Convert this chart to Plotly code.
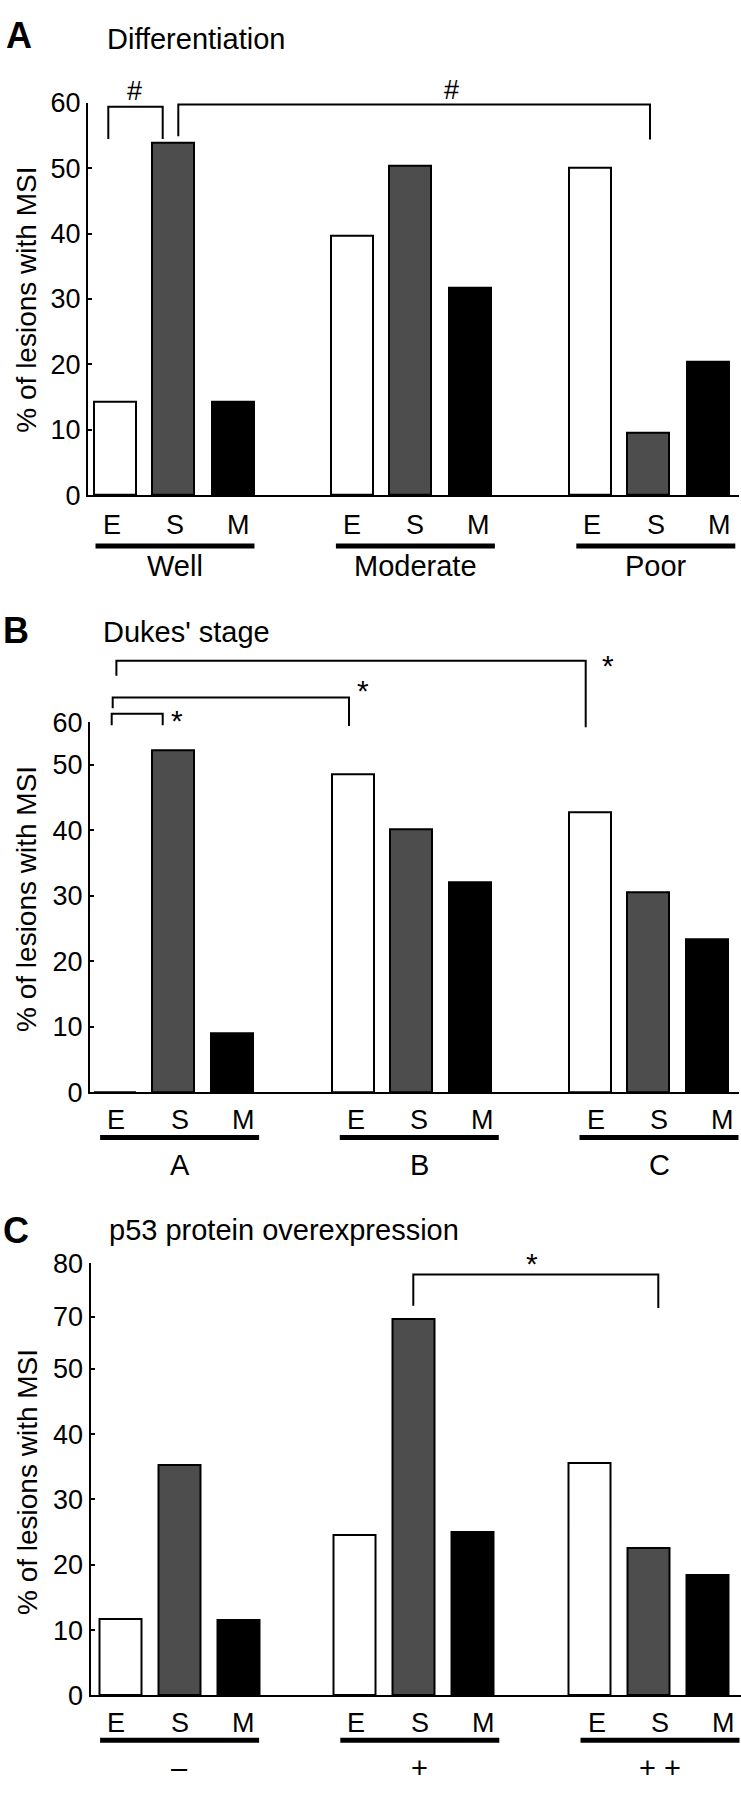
import numpy as np
import plotly.graph_objects as go

W, H = 741, 1794
FONT = "Liberation Sans, Arial, Helvetica, sans-serif"

# ---------------- data ----------------
series = ["E", "S", "M"]

diff_groups = ["Well", "Moderate", "Poor"]
diff_E = [14.3, 39.7, 50.1]
diff_S = [53.9, 50.4, 9.6]
diff_M = [14.3, 31.7, 20.4]
diff_ticks = [0, 10, 20, 30, 40, 50, 60]

dukes_groups = ["A", "B", "C"]
dukes_E = [0.0, 48.5, 42.8]
dukes_S = [53.5, 40.2, 30.5]
dukes_M = [9.0, 32.0, 23.3]
dukes_ticks = [0, 10, 20, 30, 40, 50, 60]

p53_groups = ["\u2013", "+", "+ +"]
p53_E = [11.7, 24.6, 35.6]
p53_S = [35.3, 69.0, 22.5]
p53_M = [11.6, 25.0, 18.4]
p53_ticks = [0, 10, 20, 30, 40, 50, 70, 80]

# ---------------- layout / style ----------------
colors = {"E": "#ffffff", "S": "#4d4d4d", "M": "#000000"}

panels = [
    dict(letter="A", title="Differentiation", groups=diff_groups,
         vals={"E": diff_E, "S": diff_S, "M": diff_M},
         ticks=diff_ticks, tickpos=[0, 10, 20, 30, 40, 50, 60],
         base=488.3, top=89.3, left=88, right=739, c0=173.0, gap=237.3,
         offs={"E": -58, "S": 0, "M": 60},
         lab_c0=175.0, lab_gap=240.4, esm_y=518.3, line_y=540, grp_y=560,
         letter_xy=(19, 21), title_xy=(105, 24), ytitle_y=289.5,
         brackets=[[(108.3, 126), (108.3, 93.3), (162.7, 93.3), (162.7, 126)],
                   [(178.3, 123.3), (178.3, 91), (650, 91), (650, 126.5)]],
         marks=[("#", 134.3, 77), ("#", 451, 76)]),
    dict(letter="B", title="Dukes' stage", groups=dukes_groups,
         vals={"E": dukes_E, "S": dukes_S, "M": dukes_M},
         ticks=dukes_ticks, tickpos=[0, 10, 20, 30, 40, 50, 56.5],
         base=1095.7, top=719.3, left=90, right=739, c0=173.3, gap=237.3,
         offs={"E": -58, "S": 0, "M": 59},
         lab_c0=179.6, lab_gap=239.7, esm_y=1123.6, line_y=1141.5, grp_y=1169.4,
         letter_xy=(15.5, 626), title_xy=(101, 628), ytitle_y=899,
         brackets=[[(111.7, 722.3), (111.7, 710.7), (162.7, 710.7), (162.7, 722.3)],
                   [(112.7, 705), (112.7, 694), (349, 694), (349, 723)],
                   [(116.4, 672), (116.4, 656.7), (585.7, 656.7), (585.7, 724.3)]],
         marks=[("*", 177, 718), ("*", 363, 687), ("*", 608, 662)]),
    dict(letter="C", title="p53 protein overexpression", groups=p53_groups,
         vals={"E": p53_E, "S": p53_S, "M": p53_M},
         ticks=p53_ticks, tickpos=[0, 10, 20, 30, 40, 50, 58.0, 66.2],
         base=1709, top=1269.3, left=90.5, right=741, c0=179.3, gap=234.5,
         offs={"E": -59, "S": 0, "M": 59},
         lab_c0=179.6, lab_gap=240.2, esm_y=1737, line_y=1754.5, grp_y=1783,
         letter_xy=(15.5, 1236), title_xy=(107, 1236), ytitle_y=1492,
         brackets=[[(413.3, 1312.7), (413.3, 1281), (658.3, 1281), (658.3, 1315)]],
         marks=[("*", 531.7, 1270)]),
]

BAR_W = 42
TICK_SIZE = 27
ESM_SIZE = 27
LABEL_SIZE = 29
TITLE_SIZE = 29
YTITLE_SIZE = 28


def PX(x):
    return x / W


def PY(y):
    return 1 - y / H


fig = go.Figure()
shapes = []
annotations = []

for i, p in enumerate(panels, start=1):
    xa = "x" if i == 1 else f"x{i}"
    ya = "y" if i == 1 else f"y{i}"
    ng = len(p["groups"])
    for s in series:
        xs = [g + p["offs"][s] / p["gap"] for g in range(ng)]
        ys = np.interp(p["vals"][s], p["ticks"], p["tickpos"])
        fig.add_trace(go.Bar(
            x=xs, y=ys, width=BAR_W / p["gap"], xaxis=xa, yaxis=ya,
            marker=dict(color=colors[s], line=dict(color="black", width=2)),
            showlegend=False, hoverinfo="skip"))

    xkey = "xaxis" if i == 1 else f"xaxis{i}"
    ykey = "yaxis" if i == 1 else f"yaxis{i}"
    fig.update_layout(**{
        xkey: dict(domain=[PX(p["left"]), PX(p["right"])],
                   range=[(p["left"] - p["c0"]) / p["gap"], (p["right"] - p["c0"]) / p["gap"]],
                   anchor=ya, showline=True, linewidth=2, linecolor="black",
                   showticklabels=False, ticks="", showgrid=False, zeroline=False,
                   fixedrange=True),
        ykey: dict(domain=[PY(p["base"]), PY(p["top"])],
                   range=[0, p["tickpos"][-1]], anchor=xa,
                   tickvals=p["tickpos"], ticktext=[str(t) for t in p["ticks"]],
                   ticks="inside", ticklen=4, tickwidth=2, tickcolor="black",
                   showline=True, linewidth=2, linecolor="black",
                   showgrid=False, zeroline=False, fixedrange=True,
                   tickfont=dict(size=TICK_SIZE, color="black", family=FONT)),
    })

    # E / S / M labels, underline, group label
    for g, gname in enumerate(p["groups"]):
        cx = p["lab_c0"] + p["lab_gap"] * g
        for k, s in enumerate(series):
            annotations.append(dict(
                x=PX(cx + (k - 1) * 63.5), y=PY(p["esm_y"]), xref="paper", yref="paper",
                text=s, showarrow=False, xanchor="center", yanchor="middle",
                font=dict(size=ESM_SIZE, color="black", family=FONT)))
        shapes.append(dict(type="line", xref="paper", yref="paper",
                           x0=PX(cx - 79.5), x1=PX(cx + 79.5),
                           y0=PY(p["line_y"]), y1=PY(p["line_y"]),
                           line=dict(color="black", width=5)))
        annotations.append(dict(
            x=PX(cx), y=PY(p["grp_y"]), xref="paper", yref="paper",
            text=gname, showarrow=False, xanchor="center", yanchor="middle",
            font=dict(size=LABEL_SIZE, color="black", family=FONT)))

    # panel letter & title
    annotations.append(dict(
        x=PX(p["letter_xy"][0]), y=PY(p["letter_xy"][1]), xref="paper", yref="paper",
        text=f"<b>{p['letter']}</b>", showarrow=False, xanchor="center", yanchor="middle",
        font=dict(size=36, color="black", family=FONT)))
    annotations.append(dict(
        x=PX(p["title_xy"][0]), y=PY(p["title_xy"][1]), xref="paper", yref="paper",
        text=p["title"], showarrow=False, xanchor="left", yanchor="middle",
        font=dict(size=TITLE_SIZE, color="black", family=FONT)))
    # y axis title
    annotations.append(dict(
        x=PX(27), y=PY(p["ytitle_y"]), xref="paper", yref="paper",
        text="% of lesions with MSI", showarrow=False, textangle=-90,
        xanchor="center", yanchor="middle",
        font=dict(size=YTITLE_SIZE, color="black", family=FONT)))

    # significance brackets
    for br in p["brackets"]:
        path = "M " + " L ".join(f"{PX(x):.5f},{PY(y):.5f}" for x, y in br)
        shapes.append(dict(type="path", path=path, xref="paper", yref="paper",
                           line=dict(color="black", width=2)))
    for txt, mx, my in p["marks"]:
        annotations.append(dict(
            x=PX(mx), y=PY(my), xref="paper", yref="paper", text=txt,
            showarrow=False, xanchor="center", yanchor="middle",
            font=dict(size=30 if txt == "*" else 27, color="black", family=FONT)))

fig.update_layout(
    width=W, height=H,
    margin=dict(l=0, r=0, t=0, b=0),
    paper_bgcolor="white", plot_bgcolor="white",
    barmode="overlay", bargap=0,
    shapes=shapes, annotations=annotations,
    font=dict(family=FONT, color="black"),
    showlegend=False,
)

fig.write_html(
    "out.html",
    config={"displayModeBar": False},
    post_script="document.body.style.margin='0';document.body.style.overflow='hidden';",
)
